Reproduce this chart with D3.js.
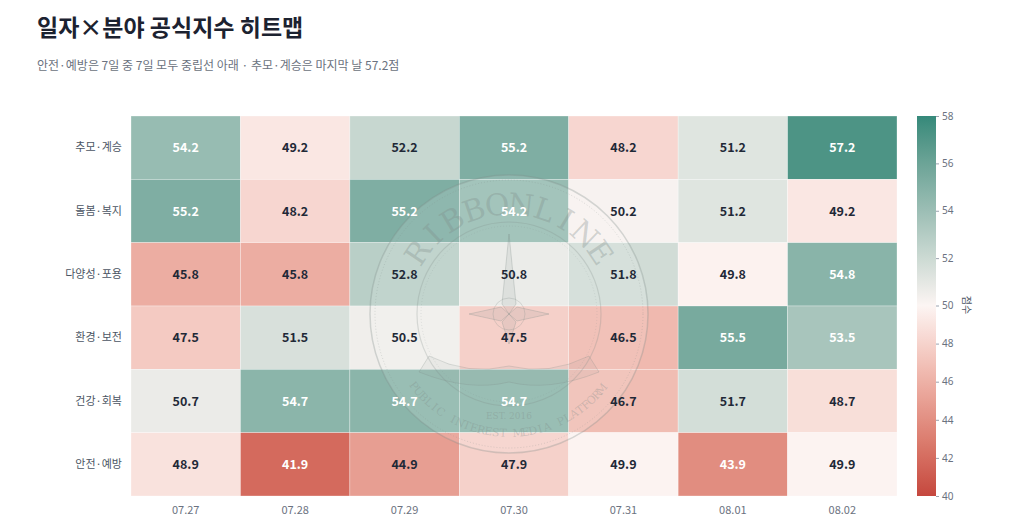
<!DOCTYPE html>
<html>
<head>
<meta charset="utf-8">
<script src="https://cdn.jsdelivr.net/npm/d3@7"></script>
<style>
  body { margin: 0; background: #fff; font-family: "Noto Sans CJK KR", "Noto Sans", sans-serif; }
</style>
</head>
<body>
<div id="chart"></div>
<script>
// données du graphique
const dates = ["07.27", "07.28", "07.29", "07.30", "07.31", "08.01", "08.02"];
const fields = ["추모·계승", "돌봄·복지", "다양성·포용", "환경·보전", "건강·회복", "안전·예방"];
const scores = [
    [54.2, 49.2, 52.2, 55.2, 48.2, 51.2, 57.2],
    [55.2, 48.2, 55.2, 54.2, 50.2, 51.2, 49.2],
    [45.8, 45.8, 52.8, 50.8, 51.8, 49.8, 54.8],
    [47.5, 51.5, 50.5, 47.5, 46.5, 55.5, 53.5],
    [50.7, 54.7, 54.7, 54.7, 46.7, 51.7, 48.7],
    [48.9, 41.9, 44.9, 47.9, 49.9, 43.9, 49.9]
];
const colorTicks = [40, 42, 44, 46, 48, 50, 52, 54, 56, 58];

const width = 1024, height = 524;
const margin = {left: 131, right: 127, top: 116, bottom: 28};

const svg = d3.select("#chart").append("svg")
    .attr("width", width)
    .attr("height", height);

// titre
svg.append("text")
    .attr("x", 37).attr("y", 36)
    .attr("font-size", 23).attr("font-weight", 700)
    .attr("fill", "#1c2230")
    .text("일자×분야 공식지수 히트맵");
svg.append("text")
    .attr("x", 37).attr("y", 70)
    .attr("font-size", 12).attr("fill", "#6b7280")
    .text("안전·예방은 7일 중 7일 모두 중립선 아래 · 추모·계승은 마지막 날 57.2점");

const x = d3.scaleBand().domain(dates).range([margin.left, width - margin.right]);
const y = d3.scaleBand().domain(fields).range([margin.top, height - margin.bottom]);

const color = d3.scaleLinear()
    .domain([40, 50, 58])
    .range(["#c5473e", "#fcf5f3", "#35897a"])
    .interpolate(d3.interpolateLab)
    .clamp(true);

// cellules
const cells = [];
scores.forEach((row, i) => row.forEach((v, j) => cells.push({field: fields[i], date: dates[j], v: v})));

svg.append("g").selectAll("rect")
    .data(cells)
    .enter()
    .append("rect")
    .attr("x", d => x(d.date))
    .attr("y", d => y(d.field))
    .attr("width", x.bandwidth())
    .attr("height", y.bandwidth())
    .attr("fill", d => color(d.v))
    .attr("stroke", "#fff")
    .attr("stroke-opacity", 0.5)
    .attr("stroke-width", 0.6);

// filigrane (sceau)
const wm = svg.append("g")
    .attr("transform", "translate(509,314)")
    .attr("pointer-events", "none");
const wmColor = "#7f8c89";
wm.append("circle").attr("r", 139).attr("fill", "#fff").attr("fill-opacity", 0.12)
    .attr("stroke", wmColor).attr("stroke-opacity", 0.3).attr("stroke-width", 1.5);
wm.append("circle").attr("r", 134).attr("fill", "none")
    .attr("stroke", wmColor).attr("stroke-opacity", 0.25).attr("stroke-dasharray", "1,2");
wm.append("circle").attr("r", 92).attr("fill", "none")
    .attr("stroke", wmColor).attr("stroke-opacity", 0.25).attr("stroke-width", 1.2);
wm.append("circle").attr("r", 88).attr("fill", "none")
    .attr("stroke", wmColor).attr("stroke-opacity", 0.18).attr("stroke-dasharray", "1,2");

// lettres posées une à une sur le cercle
function arcLetters(str, r, a0, a1, size, flip) {
    const chars = str.split("");
    const step = (a1 - a0) / (chars.length - 1);
    chars.forEach((c, i) => {
        if (c === " ") return;
        const a = a0 + i * step;
        const rad = a * Math.PI / 180;
        wm.append("text")
            .attr("transform", `translate(${r * Math.cos(rad)},${r * Math.sin(rad)}) rotate(${flip ? a - 90 : a + 90})`)
            .attr("text-anchor", "middle")
            .attr("dy", "0.35em")
            .attr("font-family", "DejaVu Serif, serif")
            .attr("font-size", size)
            .attr("fill", wmColor)
            .attr("fill-opacity", 0.32)
            .text(c);
    });
}
arcLetters("RIBBONLINE", 110, -146, -34, 30, false);
arcLetters("PUBLIC INTEREST MEDIA PLATFORM", 119, 143, 39, 11, true);

wm.append("text")
    .attr("y", 105).attr("text-anchor", "middle")
    .attr("font-family", "DejaVu Serif, serif").attr("font-size", 9)
    .attr("fill", wmColor).attr("fill-opacity", 0.35)
    .text("EST. 2016");
// rose des vents
wm.append("path")
    .attr("d", "M0,-80 L7,-10 L0,0 L-7,-10 Z M0,30 L7,8 L0,0 L-7,8 Z M-40,0 L-8,-7 L0,0 L-8,7 Z M40,0 L8,-7 L0,0 L8,7 Z")
    .attr("fill", wmColor).attr("fill-opacity", 0.12)
    .attr("stroke", wmColor).attr("stroke-opacity", 0.28);
wm.append("circle").attr("r", 16).attr("fill", "none")
    .attr("stroke", wmColor).attr("stroke-opacity", 0.25);
// ruban
wm.append("path")
    .attr("d", "M-80,42 Q-40,62 0,52 Q40,62 80,42 L90,58 Q40,78 0,68 Q-40,78 -90,58 Z")
    .attr("fill", wmColor).attr("fill-opacity", 0.08)
    .attr("stroke", wmColor).attr("stroke-opacity", 0.25);

// valeurs dans les cellules
svg.append("g").selectAll("text")
    .data(cells)
    .enter()
    .append("text")
    .attr("x", d => x(d.date) + x.bandwidth() / 2)
    .attr("y", d => y(d.field) + y.bandwidth() / 2)
    .attr("dy", "0.36em")
    .attr("text-anchor", "middle")
    .attr("font-size", 12.5)
    .attr("font-weight", 700)
    .attr("fill", d => (d.v >= 53.3 || d.v <= 44.3) ? "#ffffff" : "#1f2937")
    .text(d => d.v.toFixed(1));

// axes
const xAxis = svg.append("g")
    .attr("transform", `translate(0,${height - margin.bottom})`)
    .call(d3.axisBottom(x).tickSize(0).tickPadding(10));
const yAxis = svg.append("g")
    .attr("transform", `translate(${margin.left},0)`)
    .call(d3.axisLeft(y).tickSize(0).tickPadding(9));
[xAxis, yAxis].forEach(a => {
    a.select(".domain").remove();
    a.selectAll("text")
        .attr("font-family", "Noto Sans CJK KR, sans-serif")
        .attr("font-size", 11)
        .attr("fill", "#4b5563");
});
xAxis.selectAll("text").attr("fill", "#6b7280");

// barre de couleur
const cbX = 917, cbW = 19;
const cbScale = d3.scaleLinear()
    .domain([40, 50, 58])
    .range([height - margin.bottom, 305.5, margin.top]);

const defs = svg.append("defs");
const grad = defs.append("linearGradient")
    .attr("id", "cbGrad")
    .attr("x1", 0).attr("y1", 1).attr("x2", 0).attr("y2", 0);
d3.range(40, 58.01, 0.5).forEach(v => {
    grad.append("stop")
        .attr("offset", ((height - margin.bottom) - cbScale(v)) / ((height - margin.bottom) - margin.top))
        .attr("stop-color", color(v));
});
svg.append("rect")
    .attr("x", cbX).attr("y", margin.top)
    .attr("width", cbW).attr("height", height - margin.bottom - margin.top)
    .attr("fill", "url(#cbGrad)");

const cbAxis = svg.append("g")
    .attr("transform", `translate(${cbX + cbW},0)`)
    .call(d3.axisRight(cbScale).tickValues(colorTicks).tickSize(3).tickPadding(3));
cbAxis.select(".domain").remove();
cbAxis.selectAll("line").attr("stroke", "#9ca3af");
cbAxis.selectAll("text")
    .attr("font-family", "Noto Sans, sans-serif")
    .attr("font-size", 10)
    .attr("fill", "#6b7280");

svg.append("text")
    .attr("transform", "translate(963,305) rotate(90)")
    .attr("text-anchor", "middle")
    .attr("font-size", 10)
    .attr("fill", "#4b5563")
    .text("점수");
</script>
</body>
</html>
